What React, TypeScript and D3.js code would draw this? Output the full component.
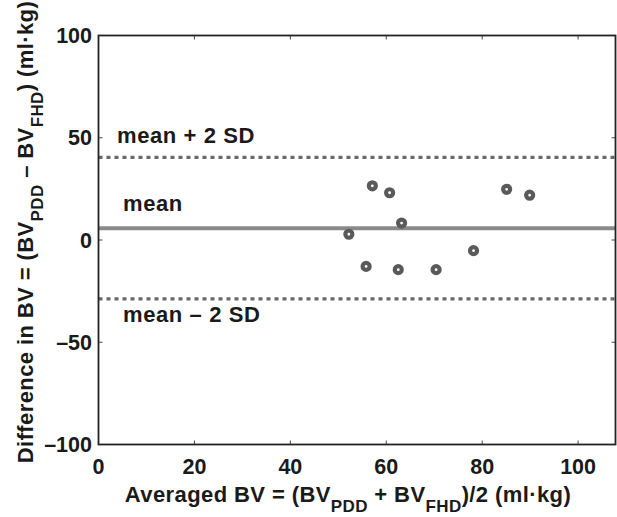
import React from "react";
import * as d3 from "d3";

const avgBV = [52.2, 55.8, 57.1, 60.7, 62.5, 63.2, 70.4, 78.2, 85.1, 89.9];
const diffBV = [2.8, -12.9, 26.5, 23.1, -14.5, 8.3, -14.5, -5.2, 24.8, 21.9];
const meanDiff = 5.8;
const sdDiff = 17.3;
const xTicks = [0, 20, 40, 60, 80, 100];
const yTicks = [-100, -50, 0, 50, 100];
const xDomain = [0, 107.8];
const yDomain = [-100, 100];

const W = 617;
const H = 517;
const left = 98.5;
const right = 615.5;
const top = 35.5;
const bottom = 444.5;
const font = "'Liberation Sans', Arial, Helvetica, sans-serif";

export default function App() {
  const x = d3.scaleLinear().domain(xDomain).range([left, right]);
  const y = d3.scaleLinear().domain(yDomain).range([bottom, top]);
  const upper = meanDiff + 2 * sdDiff;
  const lower = meanDiff - 2 * sdDiff;
  const tickLen = 4;
  return (
    <svg
      width={W}
      height={H}
      style={{ position: "absolute", left: 0, top: 0, background: "#fff" }}
      fontFamily={font}
      fontWeight="bold"
    >
      {/* reference lines */}
      <line x1={left} x2={right} y1={y(upper)} y2={y(upper)} stroke="#6a6a6a" strokeWidth={3.2} strokeDasharray="4 4" />
      <line x1={left} x2={right} y1={y(lower)} y2={y(lower)} stroke="#6a6a6a" strokeWidth={3.2} strokeDasharray="4 4" />
      <line x1={left} x2={right} y1={y(meanDiff)} y2={y(meanDiff)} stroke="#8a8a8a" strokeWidth={4} />

      {/* labels */}
      <text x={117} y={143} fontSize={22} letterSpacing={0.6} fill="#1a1a1a">mean + 2 SD</text>
      <text x={123} y={211} fontSize={22} letterSpacing={0.6} fill="#1a1a1a">mean</text>
      <text x={123} y={322} fontSize={22} letterSpacing={0.6} fill="#1a1a1a">mean – 2 SD</text>

      {/* points */}
      {avgBV.map((v, i) => (
        <circle key={i} cx={x(v)} cy={y(diffBV[i])} r={3.5} fill="#fff" stroke="#5a5a5a" strokeWidth={4.2} />
      ))}

      {/* ticks */}
      {xTicks.map((t) => (
        <g key={"xt" + t}>
          <line x1={x(t)} x2={x(t)} y1={bottom} y2={bottom - tickLen} stroke="#444" strokeWidth={1} />
          <line x1={x(t)} x2={x(t)} y1={top} y2={top + tickLen} stroke="#444" strokeWidth={1} />
          <text x={x(t)} y={474} fontSize={21.5} textAnchor="middle" fill="#1a1a1a">{t}</text>
        </g>
      ))}
      {yTicks.map((t) => (
        <g key={"yt" + t}>
          <line x1={left} x2={left + tickLen} y1={y(t)} y2={y(t)} stroke="#444" strokeWidth={1} />
          <line x1={right} x2={right - tickLen} y1={y(t)} y2={y(t)} stroke="#444" strokeWidth={1} />
          <text x={92} y={y(t) + 7.5} fontSize={21.5} textAnchor="end" fill="#1a1a1a">{t < 0 ? "–" + Math.abs(t) : t}</text>
        </g>
      ))}

      {/* box */}
      <rect x={left} y={top} width={right - left} height={bottom - top} fill="none" stroke="#222" strokeWidth={1.8} />

      {/* x title */}
      <text x={348} y={502} fontSize={22} letterSpacing={0.4} textAnchor="middle" fill="#1a1a1a">
        Averaged BV = (BV<tspan fontSize={17} dy={10}>PDD</tspan>
        <tspan dy={-10}> + BV</tspan>
        <tspan fontSize={17} dy={10}>FHD</tspan>
        <tspan dy={-10}>)/2 (ml·kg)</tspan>
      </text>

      {/* y title */}
      <text transform={`translate(33,232) rotate(-90)`} fontSize={22} letterSpacing={0.4} textAnchor="middle" fill="#1a1a1a">
        Difference in BV = (BV<tspan fontSize={17} dy={10}>PDD</tspan>
        <tspan dy={-10}> – BV</tspan>
        <tspan fontSize={17} dy={10}>FHD</tspan>
        <tspan dy={-10}>) (ml·kg)</tspan>
      </text>
    </svg>
  );
}
